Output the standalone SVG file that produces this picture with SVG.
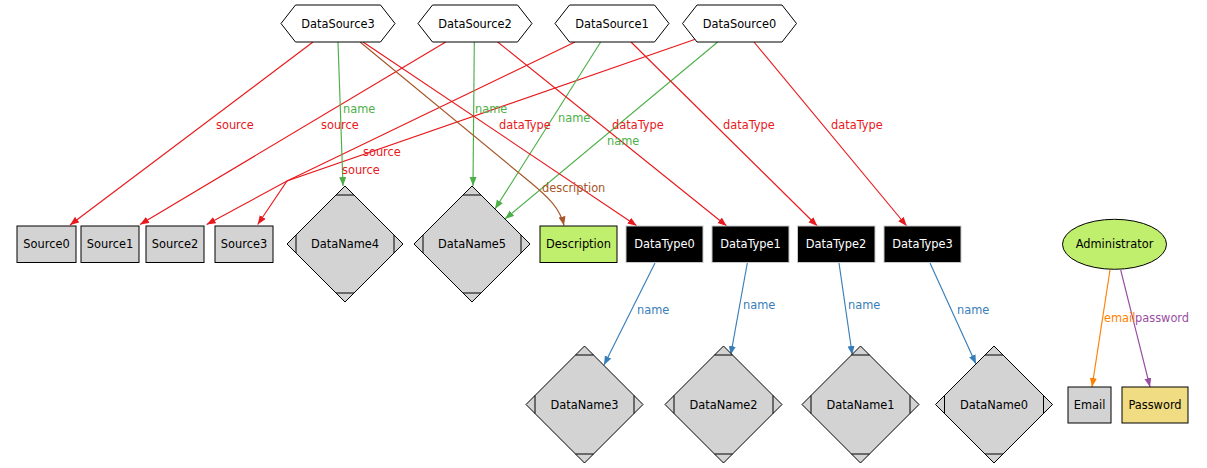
<svg xmlns="http://www.w3.org/2000/svg" width="1207" height="468" viewBox="0 0 1207 468">
<style>
text{font-family:"DejaVu Sans","Liberation Sans",sans-serif;font-size:11.4px}
.n{text-anchor:middle;fill:#000}
.w{text-anchor:middle;fill:#fff}
.hex{fill:#fff;stroke:#000;stroke-width:1}
.box{fill:#d3d3d3;stroke:#000;stroke-width:1}
.blk{fill:#000;stroke:#c8c8c8;stroke-width:1}
.grn{fill:#c0ee6d;stroke:#000;stroke-width:1}
.dia{fill:#d3d3d3;stroke:#000;stroke-width:1}
.mk{fill:none;stroke:#000;stroke-width:1}
.e{fill:none;stroke-width:1.15}
.r{stroke:#e8191c}.g{stroke:#4daf4a}.b{stroke:#377eb8}.br{stroke:#a65628}.o{stroke:#ff7f00}.p{stroke:#984ea3}
.lr{fill:#e8191c}.lg{fill:#4daf4a}.lb{fill:#377eb8}.lbr{fill:#a65628}.lo{fill:#ff7f00}.lp{fill:#984ea3}
</style>
<defs>
<marker id="ar" markerUnits="userSpaceOnUse" markerWidth="10" markerHeight="8" refX="9" refY="3.5" orient="auto"><path d="M0,0 L9,3.5 L0,7 z" fill="#e8191c"/></marker>
<marker id="ag" markerUnits="userSpaceOnUse" markerWidth="10" markerHeight="8" refX="9" refY="3.5" orient="auto"><path d="M0,0 L9,3.5 L0,7 z" fill="#4daf4a"/></marker>
<marker id="ab" markerUnits="userSpaceOnUse" markerWidth="10" markerHeight="8" refX="9" refY="3.5" orient="auto"><path d="M0,0 L9,3.5 L0,7 z" fill="#377eb8"/></marker>
<marker id="abr" markerUnits="userSpaceOnUse" markerWidth="10" markerHeight="8" refX="9" refY="3.5" orient="auto"><path d="M0,0 L9,3.5 L0,7 z" fill="#a65628"/></marker>
<marker id="ao" markerUnits="userSpaceOnUse" markerWidth="10" markerHeight="8" refX="9" refY="3.5" orient="auto"><path d="M0,0 L9,3.5 L0,7 z" fill="#ff7f00"/></marker>
<marker id="ap" markerUnits="userSpaceOnUse" markerWidth="10" markerHeight="8" refX="9" refY="3.5" orient="auto"><path d="M0,0 L9,3.5 L0,7 z" fill="#984ea3"/></marker>
</defs>
<rect width="1207" height="468" fill="#fff"/>

<g id="connectors">
<path class="e r" d="M313,42 L70,225" marker-end="url(#ar)"/>
<path class="e r" d="M445.7,42 L140,224.5" marker-end="url(#ar)"/>
<path class="e r" d="M575,42 L287,181 L206.7,224.5" marker-end="url(#ar)"/>
<path class="e r" d="M696,39 L287,181 L257.7,224.5" marker-end="url(#ar)"/>
<path class="e g" d="M338,42 L343,186" marker-end="url(#ag)"/>
<path class="e g" d="M474.3,42 L473,186" marker-end="url(#ag)"/>
<path class="e g" d="M600.7,42 L495,209" marker-end="url(#ag)"/>
<path class="e g" d="M717.7,42 L505,219" marker-end="url(#ag)"/>
<path class="e br" d="M360,42 L530,182 C548,197 560,208 564,225.5" marker-end="url(#abr)"/>
<path class="e r" d="M363,42 L636.7,225.7" marker-end="url(#ar)"/>
<path class="e r" d="M497.7,42 L726.7,226" marker-end="url(#ar)"/>
<path class="e r" d="M631,42 L817.3,226" marker-end="url(#ar)"/>
<path class="e r" d="M754,42 L906.7,226" marker-end="url(#ar)"/>
<path class="e b" d="M655,263 L604,365" marker-end="url(#ab)"/>
<path class="e b" d="M747.3,263 L730.7,355" marker-end="url(#ab)"/>
<path class="e b" d="M839,263 L852.3,355" marker-end="url(#ab)"/>
<path class="e b" d="M930,263 L976,364" marker-end="url(#ab)"/>
<path class="e o" d="M1110,270 L1092,387" marker-end="url(#ao)"/>
<path class="e p" d="M1120.7,270 L1150,387" marker-end="url(#ap)"/>
<text class="lr" x="216" y="129">source</text>
<text class="lr" x="321" y="129">source</text>
<text class="lr" x="363" y="156">source</text>
<text class="lr" x="342" y="174">source</text>
<text class="lg" x="343" y="113">name</text>
<text class="lg" x="475" y="113">name</text>
<text class="lg" x="558" y="122">name</text>
<text class="lg" x="607" y="145">name</text>
<text class="lbr" x="542" y="192">description</text>
<text class="lr" x="499" y="129">dataType</text>
<text class="lr" x="612" y="129">dataType</text>
<text class="lr" x="723" y="129">dataType</text>
<text class="lr" x="831" y="129">dataType</text>
<text class="lb" x="637" y="314">name</text>
<text class="lb" x="743" y="309">name</text>
<text class="lb" x="848" y="309">name</text>
<text class="lb" x="957" y="314">name</text>
<text class="lo" x="1104" y="322">email</text>
<text class="lp" x="1135" y="322">password</text>
</g>

<g id="DataSource3"><polygon class="hex" points="281,23.5 295.5,5 380.5,5 395,23.5 380.5,42 295.5,42"/><text class="n" x="338" y="27.5">DataSource3</text></g>
<g id="DataSource2"><polygon class="hex" points="418,23.5 432.5,5 517.5,5 532,23.5 517.5,42 432.5,42"/><text class="n" x="475" y="27.5">DataSource2</text></g>
<g id="DataSource1"><polygon class="hex" points="555,23.5 569.5,5 654.5,5 669,23.5 654.5,42 569.5,42"/><text class="n" x="612" y="27.5">DataSource1</text></g>
<g id="DataSource0"><polygon class="hex" points="682.5,23.5 697,5 782,5 796.5,23.5 782,42 697,42"/><text class="n" x="739.5" y="27.5">DataSource0</text></g>

<g id="Source0"><rect class="box" x="17" y="226" width="59" height="36.5"/><text class="n" x="46.5" y="248">Source0</text></g>
<g id="Source1"><rect class="box" x="81" y="226" width="58" height="36.5"/><text class="n" x="110" y="248">Source1</text></g>
<g id="Source2"><rect class="box" x="146" y="226" width="58" height="36.5"/><text class="n" x="175" y="248">Source2</text></g>
<g id="Source3"><rect class="box" x="215" y="226" width="58" height="36.5"/><text class="n" x="244" y="248">Source3</text></g>

<g id="DataName4"><polygon class="dia" points="345,186 403,244 345,302 287,244"/><path class="mk" d="M336,195 H354 M394,235 V253 M336,293 H354 M296,235 V253"/><text class="n" x="345" y="248">DataName4</text></g>
<g id="DataName5"><polygon class="dia" points="472,186 530,244 472,302 414,244"/><path class="mk" d="M463,195 H481 M521,235 V253 M463,293 H481 M423,235 V253"/><text class="n" x="472" y="248">DataName5</text></g>

<g id="Description"><rect class="grn" x="540" y="226" width="77" height="36.5"/><text class="n" x="578.5" y="248">Description</text></g>
<g id="DataType0"><rect class="blk" x="626" y="226" width="77" height="36.5"/><text class="w" x="664.5" y="248">DataType0</text></g>
<g id="DataType1"><rect class="blk" x="712" y="226" width="77" height="36.5"/><text class="w" x="750.5" y="248">DataType1</text></g>
<g id="DataType2"><rect class="blk" x="797.5" y="226" width="77.5" height="36.5"/><text class="w" x="836" y="248">DataType2</text></g>
<g id="DataType3"><rect class="blk" x="884" y="226" width="77" height="36.5"/><text class="w" x="922.5" y="248">DataType3</text></g>

<g id="Administrator"><ellipse class="grn" cx="1114.5" cy="244.3" rx="52" ry="25"/><text class="n" x="1114.5" y="248.3">Administrator</text></g>

<g id="DataName3"><polygon class="dia" points="584.5,346 643,404.5 584.5,463 526,404.5"/><path class="mk" d="M575.5,355 H593.5 M634,395.5 V413.5 M575.5,454 H593.5 M535,395.5 V413.5"/><text class="n" x="584.5" y="408.5">DataName3</text></g>
<g id="DataName2"><polygon class="dia" points="723.5,346 782,404.5 723.5,463 665,404.5"/><path class="mk" d="M714.5,355 H732.5 M773,395.5 V413.5 M714.5,454 H732.5 M674,395.5 V413.5"/><text class="n" x="723.5" y="408.5">DataName2</text></g>
<g id="DataName1"><polygon class="dia" points="860.5,346 919,404.5 860.5,463 802,404.5"/><path class="mk" d="M851.5,355 H869.5 M910,395.5 V413.5 M851.5,454 H869.5 M811,395.5 V413.5"/><text class="n" x="860.5" y="408.5">DataName1</text></g>
<g id="DataName0"><polygon class="dia" points="994,346 1052.5,404.5 994,463 935.5,404.5"/><path class="mk" d="M985,355 H1003 M1043.5,395.5 V413.5 M985,454 H1003 M944.5,395.5 V413.5"/><text class="n" x="994" y="408.5">DataName0</text></g>

<g id="Email"><rect class="box" x="1068" y="387" width="43" height="36"/><text class="n" x="1089.5" y="409">Email</text></g>
<g id="Password"><rect class="box" x="1122" y="387" width="66" height="36" style="fill:#f0dc82"/><text class="n" x="1155" y="409">Password</text></g>
</svg>
